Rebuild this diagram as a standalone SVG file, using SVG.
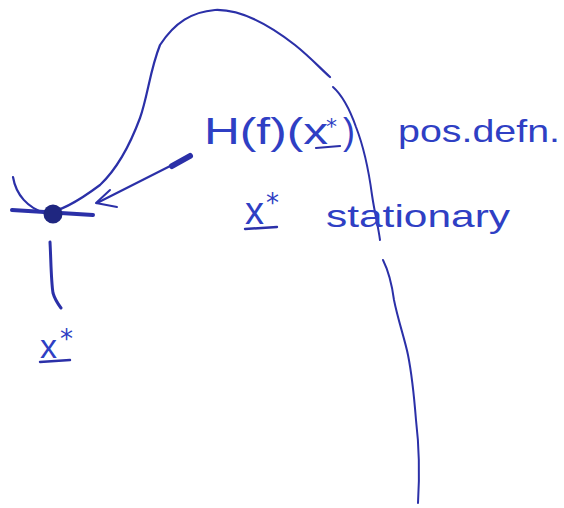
<svg xmlns="http://www.w3.org/2000/svg" width="564" height="508" viewBox="0 0 564 508">
<style>
.ink{fill:none;stroke:#2b30a8;stroke-linecap:round;stroke-linejoin:round}
.txt{font-family:"Liberation Sans","DejaVu Sans",sans-serif;fill:#2f3fc4}
.star{font-family:"DejaVu Sans",sans-serif;fill:#2f3fc4}
</style>
<rect width="564" height="508" fill="#ffffff"/>
<g id="curve">
<path class="ink" stroke-width="2.2" d="M13,177 C16,195 28,208 45,213 C60,212 80,200 100,185 C118,168 130,145 140,118 C148,95 150,70 160,45 C175,22 192,12 215,10 C240,9 268,24 295,45 C310,57 320,68 330,77"/>
<path class="ink" stroke-width="2" d="M333,87 C342,95 350,110 356,127 C363,145 368,165 372,195 C375,215 378,225 380,240"/>
<path class="ink" stroke-width="2" d="M383,260 C388,270 392,285 394,300 C398,320 405,340 408,355 C412,375 414,395 416,420 C419,445 420,470 418,503"/>
</g>
<g id="point">
<path class="ink" stroke-width="4" d="M12,210 L93,215"/>
<circle cx="53" cy="214" r="9.5" fill="#1f2680"/>
<path class="ink" stroke-width="3" d="M50,242 C51,260 51,280 53,293 C55,300 58,304 61,308"/>
</g>
<g id="arrow">
<path class="ink" stroke-width="2.2" d="M190,156 L97,203"/>
<path class="ink" stroke-width="6" d="M172,166 L190,156"/>
<path class="ink" stroke-width="2" d="M110,190 L96,203 L117,207"/>
</g>
<g id="labels">
<text class="txt" x="40" y="358" font-size="34">x</text>
<text class="star" x="60" y="348" font-size="26">*</text>
<path class="ink" stroke-width="2.4" d="M40,362 L70,360"/>
<text class="txt" x="204" y="144" font-size="36" textLength="124" lengthAdjust="spacingAndGlyphs">H(f)(x</text>
<text class="star" x="326" y="134" font-size="22">*</text>
<text class="txt" x="343" y="144" font-size="36">)</text>
<path class="ink" stroke-width="2.2" d="M316,148 L340,146"/>
<text class="txt" x="398" y="142" font-size="32" textLength="162" lengthAdjust="spacingAndGlyphs">pos.defn.</text>
<text class="txt" x="245" y="224" font-size="38">x</text>
<text class="star" x="266" y="212" font-size="26">*</text>
<path class="ink" stroke-width="2.4" d="M245,229 L277,227"/>
<text class="txt" x="326" y="227" font-size="32" textLength="184" lengthAdjust="spacingAndGlyphs">stationary</text>
</g>
</svg>
